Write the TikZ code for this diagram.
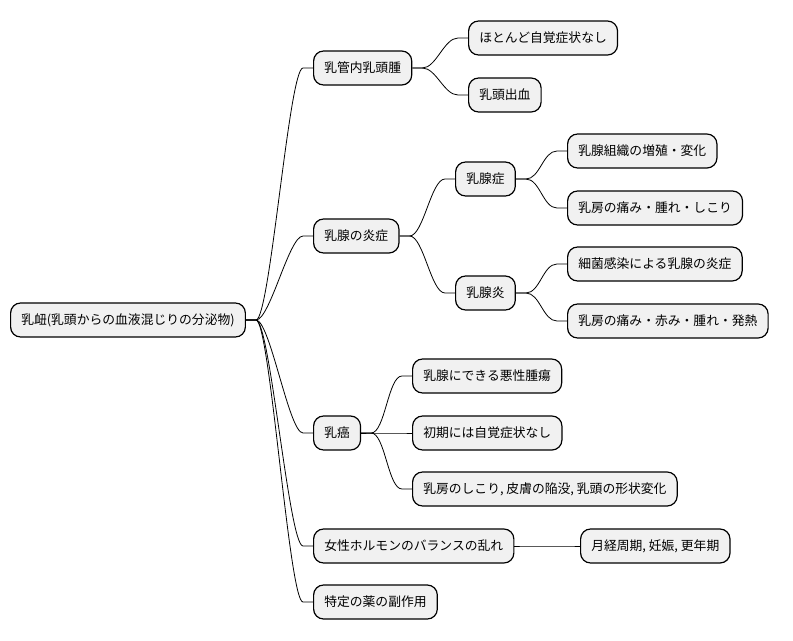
\documentclass[tikz,border=0pt]{standalone}
\usepackage{fontspec}
\setmainfont{Noto Sans CJK JP}
\usetikzlibrary{calc}
\begin{document}
\begin{tikzpicture}[x=0.75pt,y=-0.75pt,
  box/.style={draw=black,line width=0.9pt,fill={rgb,255:red,241;green,241;blue,241},rounded corners=7.5pt,minimum height=25.5pt,inner xsep=8pt,anchor=west,font=\fontsize{9.6pt}{11pt}\selectfont},
  ln/.style={line width=0.6pt}]
\newcommand\conn[2]{\draw[ln] (#1.east) -- ++(10,0) coordinate (s1) .. controls ($(s1)+(14,0)$) and ($(#2.west)+(-24,0)$) .. ($(#2.west)+(-10,0)$) -- (#2.west);}
\useasboundingbox (0,0) rectangle (793,640);
\node[box] (r) at (10,320) {乳衄(乳頭からの血液混じりの分泌物)};
\node[box] (a) at (313,68) {乳管内乳頭腫};
\node[box] (a1) at (468,38) {ほとんど自覚症状なし};
\node[box] (a2) at (468,95) {乳頭出血};
\node[box] (b) at (313,236) {乳腺の炎症};
\node[box] (b1) at (455,179) {乳腺症};
\node[box] (b11) at (567,151) {乳腺組織の増殖・変化};
\node[box] (b12) at (567,208) {乳房の痛み・腫れ・しこり};
\node[box] (b2) at (455,293) {乳腺炎};
\node[box] (b21) at (567,264) {細菌感染による乳腺の炎症};
\node[box] (b22) at (567,321) {乳房の痛み・赤み・腫れ・発熱};
\node[box] (c) at (313,433) {乳癌};
\node[box] (c1) at (412,376) {乳腺にできる悪性腫瘍};
\node[box] (c2) at (412,433) {初期には自覚症状なし};
\node[box] (c3) at (412,489) {乳房のしこり, 皮膚の陥没, 乳頭の形状変化};
\node[box] (d) at (313,546) {女性ホルモンのバランスの乱れ};
\node[box] (d1) at (580,546) {月経周期, 妊娠, 更年期};
\node[box] (e) at (313,602) {特定の薬の副作用};
\conn{r}{a}\conn{r}{b}\conn{r}{c}\conn{r}{d}\conn{r}{e}
\conn{a}{a1}\conn{a}{a2}
\conn{b}{b1}\conn{b}{b2}
\conn{b1}{b11}\conn{b1}{b12}\conn{b2}{b21}\conn{b2}{b22}
\conn{c}{c1}\conn{c}{c2}\conn{c}{c3}
\conn{d}{d1}
\end{tikzpicture}
\end{document}
